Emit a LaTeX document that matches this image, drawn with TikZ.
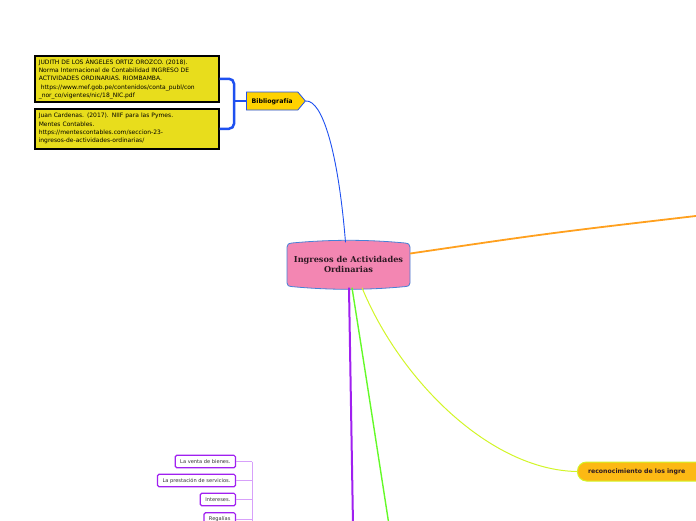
\documentclass[tikz,border=0pt]{standalone}
\usepackage{fontspec}
\setmainfont{DejaVu Sans}
\newfontfamily\serifb{DejaVu Serif}
\usetikzlibrary{shapes.symbols}
\definecolor{boxyel}{RGB}{232,221,28}
\definecolor{bibyel}{RGB}{255,210,0}
\definecolor{bluec}{RGB}{30,80,240}
\definecolor{pinkc}{RGB}{243,134,178}
\definecolor{cblue}{RGB}{70,130,215}
\definecolor{orangec}{RGB}{255,160,30}
\definecolor{ygreen}{RGB}{210,245,40}
\definecolor{recfill}{RGB}{252,185,20}
\definecolor{greenc}{RGB}{100,250,40}
\definecolor{purplec}{RGB}{160,32,240}
\definecolor{lpurple}{RGB}{215,160,250}
\definecolor{darktext}{RGB}{45,25,35}
\tikzset{
  refbox/.style={draw=black, line width=1.5pt, fill=boxyel, anchor=north west,
    text width=176pt, align=left, inner xsep=4pt, inner ysep=2pt,
    font=\fontsize{6}{8.3}\selectfont},
  subbox/.style={draw=purplec, line width=1.2pt, fill=white, rounded corners=1.5pt,
    anchor=east, minimum height=12.5pt, inner xsep=5pt, inner ysep=0pt,
    font=\fontsize{5.1}{5.5}\selectfont, text=black!80},
}
\begin{document}
\begin{tikzpicture}[x=1pt,y=-1pt]
\useasboundingbox (0,0) rectangle (696,520);
\clip (0,0) rectangle (696,520);

% reference boxes
\node[refbox, minimum height=46pt] (b1) at (34,55) {JUDITH DE LOS ÁNGELES ORTIZ OROZCO. (2018).\\Norma Internacional de Contabilidad INGRESO DE\\ACTIVIDADES ORDINARIAS. RIOMBAMBA.\\\ https://www.mef.gob.pe/contenidos/conta\_publ/con\\\_nor\_co/vigentes/nic/18\_NIC.pdf};
\node[refbox, minimum height=40pt] (b2) at (34,108) {Juan Cardenas. (2017). NIIF para las Pymes.\\Mentes Contables.\\https://mentescontables.com/seccion-23-\\ingresos-de-actividades-ordinarias/};

% Bibliografia
\node[shape=signal, signal to=east, signal pointer angle=100, draw=bluec, line width=0.8pt,
  fill=bibyel, minimum height=18pt, minimum width=59pt, inner xsep=2pt, anchor=west,
  font=\bfseries\fontsize{6.3}{7}\selectfont, text depth=0pt] (bib) at (246,101) {Bibliografía\hspace{7pt}};
\coordinate (jn) at (234,101);
\draw[bluec, line width=2.5pt, rounded corners=5pt] (b1.east) -| (jn) |- (b2.east);
\draw[bluec, line width=2.5pt] (jn) -- (bib.west);

% center
\node[minimum width=123pt, minimum height=46pt, inner sep=0pt] (center) at (348.5,264.5) {};
\draw[fill=pinkc, draw=cblue, line width=0.8pt]
  (287,247) -- (287,283)
  .. controls (287,285.5) and (288.5,286.2) .. (292,286.6)
  .. controls (330,290.2) and (367,290.2) .. (405,286.6)
  .. controls (408.5,286.2) and (410,285.5) .. (410,283)
  -- (410,247)
  .. controls (410,244.5) and (408.5,243.4) .. (405,243)
  .. controls (367,239.4) and (330,239.4) .. (292,243)
  .. controls (288.5,243.4) and (287,244.5) .. (287,247) -- cycle;
\node[align=center, text=darktext, font=\serifb\bfseries\fontsize{8.2}{10.5}\selectfont] (ctext) at (center) {Ingresos de Actividades\\Ordinarias};

% blue curve
\draw[bluec, line width=0.9pt] (bib.east) .. controls (322,100) and (338,150) .. ([xshift=-3pt,yshift=-1pt]center.north);

% orange line
\coordinate (oend) at (700,215.5);
\draw[orangec, line width=1.8pt] ([yshift=11pt]center.east) .. controls (550,233) .. (oend);

% reconocimiento node
\node[draw=ygreen, line width=1pt, fill=recfill, rounded corners=9pt, anchor=west,
  minimum height=19pt, text width=140pt, align=left, inner xsep=10.5pt, inner ysep=0pt,
  font=\bfseries\fontsize{6.2}{7}\selectfont, text=darktext] (recon) at (577,471.5) {reconocimiento de los ingre};
\draw[ygreen, line width=1pt] ([xshift=13.5pt]center.south) .. controls (400,380) and (490,470) .. (recon.west);

% green and purple lines
\coordinate (gend) at (389,525);
\coordinate (pend) at (353,525);
\draw[greenc, line width=1.4pt] ([xshift=3.5pt]center.south) .. controls (365,370) .. (gend);
\draw[purplec, line width=2pt] ([xshift=0.5pt]center.south) -- (pend);

% purple sub boxes
\node[subbox] (s1) at (236,461.5) {La venta de bienes.};
\node[subbox] (s2) at (236,480.5) {La prestación de servicios.};
\node[subbox] (s3) at (236,499.5) {Intereses.};
\node[subbox] (s4) at (236,519) {Regalías};
\coordinate (vb) at (252,461.5);
\coordinate (ve) at (252,530);
\draw[lpurple, line width=0.9pt] (vb) -- (ve);
\foreach \s in {s1,s2,s3,s4} \draw[lpurple, line width=0.9pt] (\s.east) -- (\s.east -| vb);
\end{tikzpicture}
\end{document}
